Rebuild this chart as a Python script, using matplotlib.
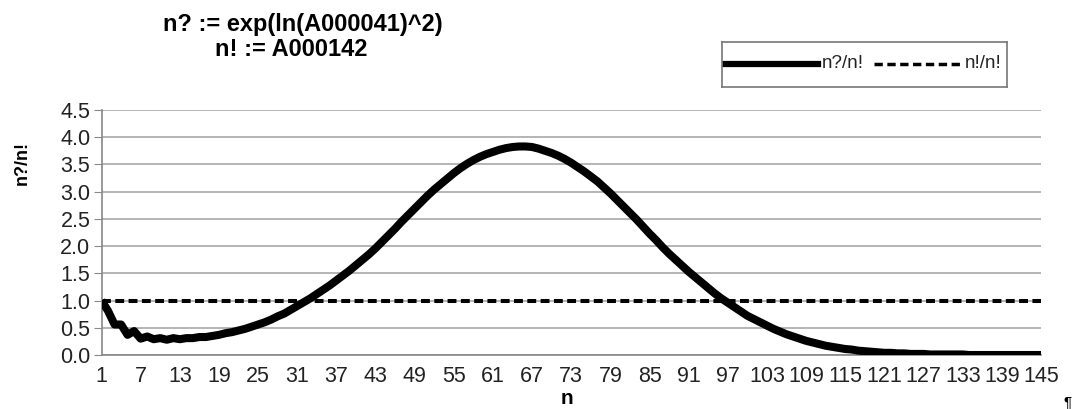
import matplotlib
matplotlib.use("Agg")
import matplotlib.pyplot as plt
from matplotlib.lines import Line2D

plt.rcParams['font.family'] = ['Liberation Sans', 'DejaVu Sans']

# n = 1..145
n_vals = list(range(1, 146))
ratio = [
    1.00, 0.81, 0.56, 0.56, 0.37, 0.44, 0.30, 0.34, 0.29, 0.31,
    0.28, 0.31, 0.29, 0.31, 0.31, 0.33, 0.33, 0.35, 0.37, 0.40,
    0.42, 0.45, 0.48, 0.52, 0.56, 0.60, 0.65, 0.71, 0.76, 0.83,
    0.90, 0.97, 1.04, 1.12, 1.20, 1.28, 1.37, 1.46, 1.55, 1.65,
    1.75, 1.85, 1.96, 2.08, 2.20, 2.32, 2.45, 2.57, 2.69, 2.81,
    2.93, 3.04, 3.14, 3.24, 3.34, 3.43, 3.51, 3.58, 3.64, 3.69,
    3.73, 3.77, 3.80, 3.82, 3.83, 3.83, 3.82, 3.79, 3.75, 3.71,
    3.66, 3.60, 3.53, 3.45, 3.37, 3.28, 3.19, 3.08, 2.97, 2.85,
    2.73, 2.61, 2.49, 2.36, 2.23, 2.11, 1.98, 1.86, 1.75, 1.64,
    1.53, 1.43, 1.33, 1.23, 1.13, 1.04, 0.96, 0.88, 0.80, 0.72,
    0.66, 0.60, 0.54, 0.48, 0.43, 0.38, 0.34, 0.30, 0.26, 0.23,
    0.20, 0.17, 0.15, 0.13, 0.11, 0.10, 0.08, 0.07, 0.06, 0.05,
    0.04, 0.04, 0.03, 0.03, 0.02, 0.02, 0.02, 0.01, 0.01, 0.01,
    0.01, 0.01, 0.01, 0.00, 0.00, 0.00, 0.00, 0.00, 0.00, 0.00,
    0.00, 0.00, 0.00, 0.00, 0.00,
]
ref = [1.0] * len(n_vals)
y_ticks = [0.0, 0.5, 1.0, 1.5, 2.0, 2.5, 3.0, 3.5, 4.0, 4.5]
x_ticks = list(range(1, 146, 6))

fig = plt.figure(figsize=(10.82, 4.09), dpi=100)
ax = fig.add_axes([101.5 / 1082, 54 / 409, 939.5 / 1082, 245 / 409])

ax.plot(n_vals, ratio, color='black', lw=5.8, solid_joinstyle='round',
        solid_capstyle='butt', zorder=3)
ax.plot(n_vals, ref, color='black', lw=2.9, linestyle=(0, (2.2, 1.1)), zorder=2)

ax.set_xlim(1, 145)
ax.set_ylim(0, 4.5)
ax.set_yticks(y_ticks)
ax.set_yticklabels([f"{v:.1f}" for v in y_ticks])
ax.set_xticks(x_ticks)
ax.set_xticklabels([str(v) for v in x_ticks])
ax.tick_params(axis='y', labelsize=15.5, length=6, color='#888888', pad=2, labelcolor='#222222')
ax.tick_params(axis='x', labelsize=15.5, length=0, pad=8, labelcolor='#222222')
ax.grid(axis='y', color='#a0a0a0', lw=1.1)
ax.set_axisbelow(True)
for s in ['top', 'right']:
    ax.spines[s].set_visible(False)
for s in ['left', 'bottom']:
    ax.spines[s].set_color('#888888')
    ax.spines[s].set_linewidth(1.2)

fig.text(22 / 1082, 1 - 163 / 409, "n?/n!", rotation=90, fontsize=13, fontweight='bold',
         ha='center', va='center')
fig.text(567 / 1082, 1 - 399 / 409, "n", fontsize=15, fontweight='bold', ha='center', va='center')

fig.text(303 / 1082, 1 - 25 / 409, "n? := exp(ln(A000041)^2)", fontsize=17, fontweight='bold',
         ha='center', va='center')
fig.text(291 / 1082, 1 - 49 / 409, "n! := A000142", fontsize=17, fontweight='bold',
         ha='center', va='center')

# legend box
lg = fig.add_axes([722 / 1082, 1 - 87 / 409, 285 / 1082, 45 / 409])
lg.set_xlim(722, 1007)
lg.set_ylim(87, 42)
lg.set_xticks([])
lg.set_yticks([])
for s in lg.spines.values():
    s.set_color('#777777')
    s.set_linewidth(1.2)
lg.add_line(Line2D([724, 818], [64, 64], color='black', lw=4.5))
lg.text(822, 64, "n?/n!", fontsize=13.5, va='center', ha='left', color='#222222')
lg.add_line(Line2D([874, 963], [64, 64], color='black', lw=2.5, linestyle=(0, (2.4, 1.3))))
lg.text(965, 64, "n!/n!", fontsize=13.5, va='center', ha='left', color='#222222')

fig.text(1068 / 1082, 1 - 403 / 409, "\u00b6", fontsize=11, ha='center', va='center')

fig.savefig("out.png", dpi=100)
